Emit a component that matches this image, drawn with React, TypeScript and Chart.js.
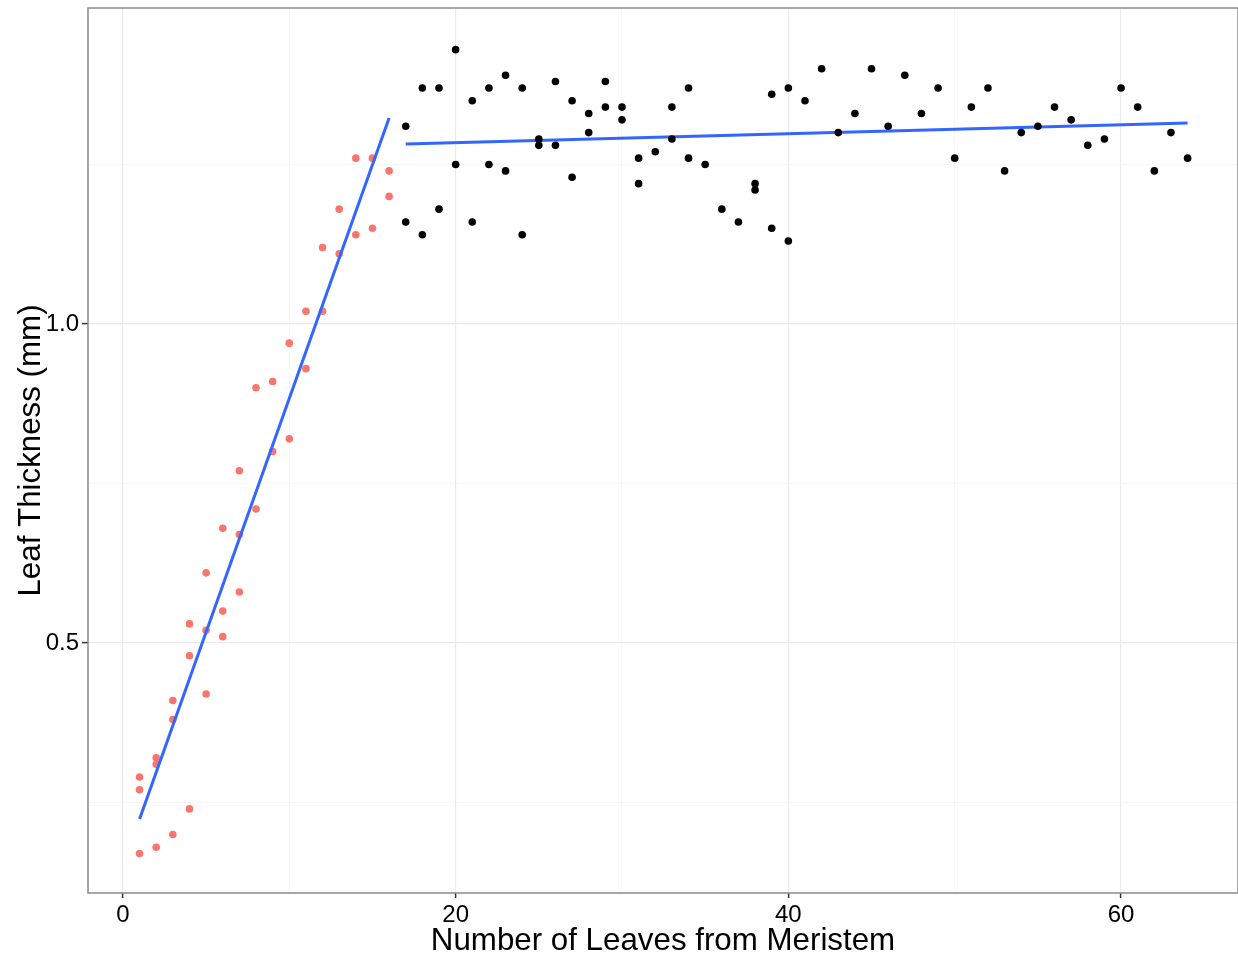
import React, { useEffect, useRef } from "react";
import { Chart, registerables } from "chart.js";

Chart.register(...registerables);

// Young leaves (red points)
const youngX = [1, 1, 1, 2, 2, 2, 3, 3, 3, 4, 4, 4, 5, 5, 5, 6, 6, 6, 7, 7, 7, 8, 8, 9, 9, 10, 10, 11, 11, 12, 12, 13, 13, 14, 14, 15, 15, 16, 16];
const youngY = [0.29, 0.27, 0.17, 0.32, 0.31, 0.18, 0.41, 0.38, 0.2, 0.53, 0.48, 0.24, 0.61, 0.52, 0.42, 0.68, 0.55, 0.51, 0.77, 0.67, 0.58, 0.9, 0.71, 0.91, 0.8, 0.97, 0.82, 1.02, 0.93, 1.12, 1.02, 1.18, 1.11, 1.26, 1.14, 1.26, 1.15, 1.24, 1.2];

// Mature leaves (black points)
const matureX = [17, 17, 18, 18, 19, 19, 20, 20, 21, 21, 22, 22, 23, 23, 24, 24, 25, 25, 26, 26, 27, 27, 28, 28, 29, 29, 30, 30, 31, 31, 32, 33, 33, 34, 34, 35, 36, 37, 38, 38, 39, 39, 40, 40, 41, 42, 43, 44, 45, 46, 47, 48, 49, 50, 51, 52, 53, 54, 55, 56, 57, 58, 59, 60, 61, 62, 63, 64];
const matureY = [1.31, 1.16, 1.37, 1.14, 1.37, 1.18, 1.43, 1.25, 1.35, 1.16, 1.37, 1.25, 1.39, 1.24, 1.37, 1.14, 1.29, 1.28, 1.38, 1.28, 1.35, 1.23, 1.33, 1.3, 1.38, 1.34, 1.34, 1.32, 1.26, 1.22, 1.27, 1.34, 1.29, 1.37, 1.26, 1.25, 1.18, 1.16, 1.22, 1.21, 1.36, 1.15, 1.37, 1.13, 1.35, 1.4, 1.3, 1.33, 1.4, 1.31, 1.39, 1.33, 1.37, 1.26, 1.34, 1.37, 1.24, 1.3, 1.31, 1.34, 1.32, 1.28, 1.29, 1.37, 1.34, 1.24, 1.3, 1.26];

// Fitted lines (endpoints)
const fitYoungX = [1, 16];
const fitYoungY = [0.224, 1.323];
const fitMatureX = [17, 64];
const fitMatureY = [1.282, 1.315];

// Ticks
const xTicks = [0, 10, 20, 30, 40, 50, 60];
const xMajor = [0, 20, 40, 60];
const yTicks = [0.25, 0.5, 0.75, 1.0, 1.25];
const yMajor = [0.5, 1.0];

const xTitle = "Number of Leaves from Meristem";
const yTitle = "Leaf Thickness (mm)";

const FONT = "'Liberation Sans', Arial, Helvetica, sans-serif";

const zip = (xs: number[], ys: number[]) => xs.map((x, i) => ({ x, y: ys[i] }));

const panelBorder = {
  id: "panelBorder",
  afterDraw(chart: any) {
    const { ctx, chartArea } = chart;
    ctx.save();
    ctx.strokeStyle = "#8a8a8a";
    ctx.lineWidth = 1.5;
    ctx.strokeRect(chartArea.left, chartArea.top, chartArea.right - chartArea.left, chartArea.bottom - chartArea.top);
    ctx.restore();
  },
};

const noPad = (scale: any) => {
  scale.paddingTop = 0;
  scale.paddingBottom = 0;
  scale.paddingLeft = 0;
  scale.paddingRight = 0;
};

export default function App() {
  const ref = useRef<HTMLCanvasElement | null>(null);
  useEffect(() => {
    if (!ref.current) return;
    const chart = new Chart(ref.current, {
      type: "scatter",
      data: {
        datasets: [
          {
            label: "young",
            data: zip(youngX, youngY),
            backgroundColor: "#F8766D",
            borderWidth: 0,
            pointRadius: 3.8,
            order: 4,
          },
          {
            label: "fitYoung",
            data: zip(fitYoungX, fitYoungY),
            showLine: true,
            borderColor: "#3366FF",
            borderWidth: 3,
            pointRadius: 0,
            order: 3,
          },
          {
            label: "fitMature",
            data: zip(fitMatureX, fitMatureY),
            showLine: true,
            borderColor: "#3366FF",
            borderWidth: 3,
            pointRadius: 0,
            order: 2,
          },
          {
            label: "mature",
            data: zip(matureX, matureY),
            backgroundColor: "#000000",
            borderWidth: 0,
            pointRadius: 3.8,
            order: 1,
          },
        ],
      },
      options: {
        animation: false,
        responsive: false,
        devicePixelRatio: 1,
        layout: { autoPadding: false, padding: { top: 8, left: 0, right: 0, bottom: 0 } },
        plugins: { legend: { display: false }, tooltip: { enabled: false } },
        scales: {
          x: {
            type: "linear",
            min: -2.1,
            max: 67.03,
            afterBuildTicks: (scale: any) => {
              scale.ticks = xTicks.map((v) => ({ value: v }));
            },
            afterFit: (scale: any) => {
              scale.height = 63;
              noPad(scale);
            },
            border: { display: false },
            grid: {
              color: (c: any) => (xMajor.includes(c.tick?.value) ? "#ebebeb" : "#f5f5f5"),
              lineWidth: (c: any) => (xMajor.includes(c.tick?.value) ? 1.2 : 0.8),
              tickColor: (c: any) => (xMajor.includes(c.tick?.value) ? "#333333" : "rgba(0,0,0,0)"),
              tickLength: 5,
              tickWidth: 1.5,
            },
            ticks: {
              autoSkip: false,
              maxRotation: 0,
              padding: 3,
              color: "#000",
              font: { family: FONT, size: 24 },
              callback: (v: any) => (xMajor.includes(v) ? String(v) : ""),
            },
            title: {
              display: true,
              text: xTitle,
              color: "#000",
              font: { family: FONT, size: 31.3 },
              padding: { top: 0, bottom: -4 },
            },
          },
          y: {
            type: "linear",
            min: 0.1082,
            max: 1.4953,
            afterBuildTicks: (scale: any) => {
              scale.ticks = yTicks.map((v) => ({ value: v }));
            },
            afterFit: (scale: any) => {
              scale.width = 88;
              noPad(scale);
            },
            border: { display: false },
            grid: {
              color: (c: any) => (yMajor.includes(c.tick?.value) ? "#ebebeb" : "#f5f5f5"),
              lineWidth: (c: any) => (yMajor.includes(c.tick?.value) ? 1.2 : 0.8),
              tickColor: (c: any) => (yMajor.includes(c.tick?.value) ? "#333333" : "rgba(0,0,0,0)"),
              tickLength: 6,
              tickWidth: 1.5,
            },
            ticks: {
              autoSkip: false,
              padding: 3,
              color: "#000",
              font: { family: FONT, size: 24 },
              callback: (v: any) => (yMajor.includes(v) ? Number(v).toFixed(1) : ""),
            },
            title: {
              display: true,
              text: yTitle,
              color: "#000",
              font: { family: FONT, size: 31.3 },
              padding: { top: 13, bottom: 0 },
            },
          },
        },
      },
      plugins: [panelBorder],
    } as any);
    return () => chart.destroy();
  }, []);
  return (
    <div style={{ position: "absolute", left: 0, top: 0, width: 1238, height: 956, background: "#fff" }}>
      <canvas ref={ref} width={1238} height={956} style={{ display: "block", width: 1238, height: 956 }} />
    </div>
  );
}
